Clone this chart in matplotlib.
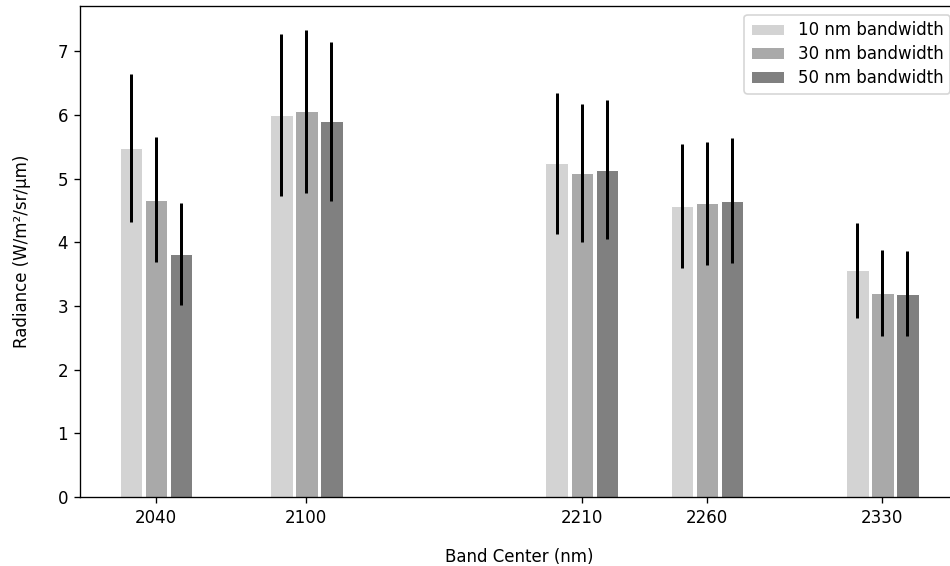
import numpy as np
import matplotlib.pyplot as plt

centers = [2040, 2100, 2210, 2260, 2330]
labels = ['10 nm bandwidth', '30 nm bandwidth', '50 nm bandwidth']
colors = ['lightgray', 'darkgray', 'gray']
offsets = [-10, 0, 10]

radiance = [
    [5.48, 6.00, 5.24, 4.57, 3.56],
    [4.67, 6.06, 5.09, 4.61, 3.20],
    [3.81, 5.90, 5.14, 4.65, 3.19],
]
errors = [
    [1.16, 1.27, 1.11, 0.97, 0.75],
    [0.98, 1.28, 1.08, 0.97, 0.68],
    [0.80, 1.25, 1.09, 0.98, 0.67],
]

plt.rcParams['font.size'] = 10

fig = plt.figure(figsize=(950 / 120, 566 / 120), dpi=120)
ax = fig.add_axes([0.084, 0.122, 0.925, 0.867])

x = np.array(centers)
for vals, errs, lab, col, off in zip(radiance, errors, labels, colors, offsets):
    ax.bar(x + off, vals, width=9, color=col, edgecolor='white', linewidth=0.6,
           yerr=errs, error_kw=dict(elinewidth=1.8, ecolor='black', capsize=0),
           label=lab)

ax.set_xticks(centers)
ax.set_xlabel('Band Center (nm)', labelpad=13)
ax.set_ylabel('Radiance (W/m²/sr/µm)', labelpad=16)
ax.legend(loc='upper right', labelspacing=0.35)

fig.savefig('out.png', dpi=120)
